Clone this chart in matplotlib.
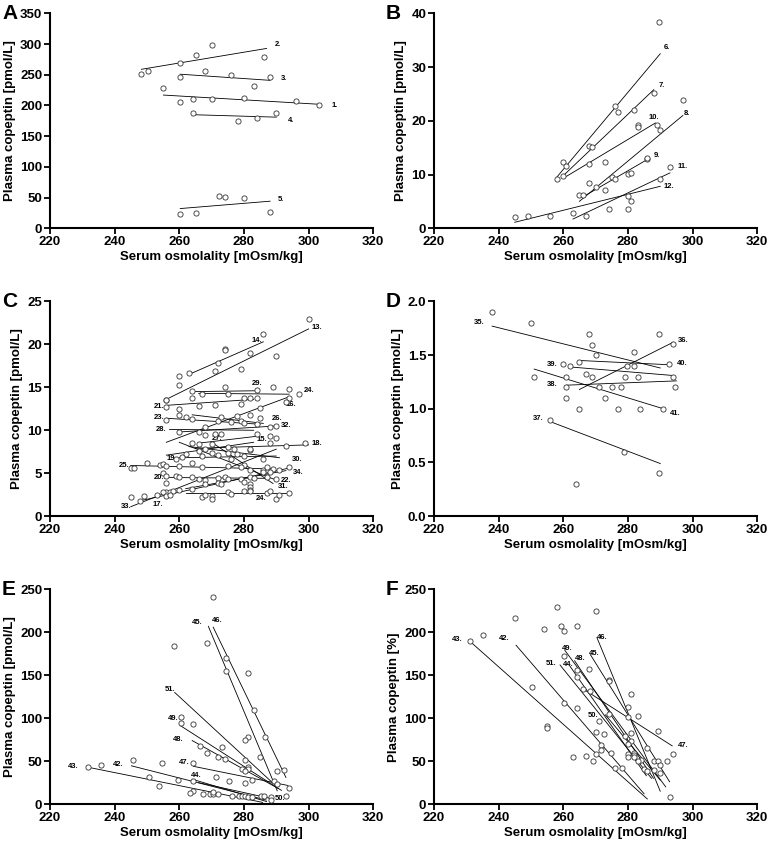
import matplotlib
matplotlib.use("Agg")
import matplotlib.pyplot as plt

plt.rcParams["font.family"] = ["Liberation Sans", "DejaVu Sans"]
plt.rcParams["font.weight"] = "bold"

# ---------------- panel A ----------------
a_px = [248.3, 250.3, 260.3, 265.2, 270.1, 286.1, 260.3, 268.1, 276.1, 288.1,
        255.1, 283, 260.3, 264.1, 270.1, 280.1, 296, 303.2, 264.1, 278.1, 284, 290,
        272.2, 274.1, 280.1, 260.3, 265.2, 288.1]
a_py = [251, 256, 270, 282, 299, 279, 247, 256, 249, 247,
        229, 231, 206, 211, 210, 212, 208, 200, 188, 175, 180, 188,
        53, 51, 50, 23, 25, 27]
a_lab = ["1.", "2.", "3.", "4.", "5."]
a_x0 = [255.1, 248.3, 260.3, 264.1, 260.3]
a_y0 = [217, 259, 251, 185, 32]
a_x1 = [303.2, 287.0, 288.1, 290, 288.1]
a_y1 = [202, 293, 241, 181, 44]
a_tx = [307, 289.5, 291.5, 293.5, 290.5]
a_ty = [200, 300, 244, 176, 46]

# ---------------- panel B ----------------
b_px = [289.7, 276, 277, 282, 288, 297, 283, 283, 289, 290, 260, 261, 260, 258,
        268, 269, 268, 273, 268, 275, 276, 270, 273, 265, 266, 280, 281, 286, 286,
        293, 290, 280, 281, 280, 274, 267, 263, 256, 249, 245]
b_py = [38.4, 22.8, 21.6, 22.1, 25.2, 23.8, 19.3, 18.8, 19.2, 18.3, 12.4, 11.5, 9.8, 9.2,
        15.3, 15.2, 12.0, 12.3, 8.5, 9.5, 9.2, 7.6, 7.2, 6.2, 6.1, 10.1, 10.3, 12.9, 13.0,
        11.4, 9.1, 6.0, 5.1, 3.6, 3.5, 2.2, 2.9, 2.2, 2.3, 2.1]
b_lab = ["6.", "7.", "10.", "8.", "9.", "11.", "12."]
b_x0 = [258, 259.5, 260, 265, 266, 263, 245]
b_y0 = [9.5, 9.5, 9.3, 5.0, 5.8, 1.7, 1.1]
b_x1 = [290, 288, 288.5, 297, 286, 293, 290]
b_y1 = [32.5, 25.8, 19.6, 21.0, 12.8, 10.3, 7.8]
b_tx = [291, 289.4, 286.5, 297.4, 288, 295.2, 291.1]
b_ty = [33.7, 26.6, 20.6, 21.4, 13.6, 11.5, 7.7]

# ---------------- panel C ----------------
c_px = [300, 286, 274, 274, 282, 272, 279, 290, 263, 271, 260, 260, 256, 274, 284, 289,
        294, 297, 264, 267, 275, 264, 280, 284, 282, 294, 256, 256, 260, 266, 271, 279,
        285, 293, 256, 260, 262, 264, 273, 278, 282, 285, 279, 276, 280, 272, 284, 260,
        266, 268, 271, 273, 268, 284, 288, 290, 288, 290, 288, 299, 293, 264, 266, 270,
        275, 277, 282, 282, 268, 266, 270, 262, 275, 278, 280, 267, 272, 259, 261, 276,
        286, 264, 250, 254, 255, 256, 260, 267, 275, 280, 279, 282, 286, 287, 289, 294,
        291, 245, 246, 255, 256, 256, 259, 260, 264, 266, 268, 272, 274, 275, 279, 280,
        282, 283, 286, 287, 290, 288, 282, 282, 282, 272, 260, 264, 268, 273, 256, 255,
        257, 258, 253, 256, 257, 249, 248, 245, 267, 268, 270, 270, 275, 276, 280, 282,
        287, 288, 290, 291, 294]
c_py = [22.9, 21.2, 19.5, 19.4, 19.0, 17.8, 17.1, 18.6, 16.7, 16.9, 16.3, 15.3, 13.5, 15.0,
        14.7, 15.0, 14.8, 14.2, 14.6, 14.2, 14.2, 13.8, 13.8, 13.8, 13.7, 13.8, 13.5, 12.7,
        12.5, 12.8, 12.9, 13.1, 12.6, 13.3, 11.2, 11.8, 11.6, 11.3, 11.5, 11.7, 11.8, 11.4,
        11.1, 11.0, 10.8, 11.1, 10.7, 9.8, 9.8, 10.4, 9.6, 9.6, 9.5, 9.6, 10.4, 10.5, 9.3,
        9.1, 8.5, 8.5, 8.2, 8.5, 8.4, 8.4, 8.0, 7.8, 7.7, 7.8, 7.8, 7.6, 7.3, 7.2, 7.3, 7.2,
        7.0, 7.0, 7.1, 6.7, 6.9, 6.7, 6.6, 6.2, 6.2, 6.0, 6.1, 5.8, 5.8, 5.7, 5.8, 5.9, 5.7,
        5.4, 5.4, 5.7, 5.5, 5.7, 5.4, 5.6, 5.6, 5.0, 4.7, 3.9, 4.7, 4.6, 4.5, 4.3, 4.2, 4.4,
        4.5, 4.3, 4.3, 4.0, 4.5, 4.4, 5.1, 4.5, 4.3, 5.1, 3.8, 3.4, 3.0, 3.9, 3.1, 3.2, 3.7,
        3.8, 2.8, 2.8, 2.8, 2.9, 2.5, 2.3, 2.5, 2.4, 1.8, 2.2, 2.2, 2.5, 2.3, 2.0, 2.8, 2.6,
        2.9, 2.9, 2.7, 2.9, 2.0, 2.5, 2.7]
c_lab = ["13.", "14.", "29.", "24.", "21.", "16.", "23.", "26.", "32.", "28.", "27.", "15.",
         "18.", "19.", "30.", "25.", "34.", "20.", "22.", "31.", "24.", "33.", "17."]
c_x0 = [256, 263, 264, 266, 256, 256, 256, 264, 260, 257, 266, 256,
        265, 260, 263, 245, 262, 257, 260, 270, 262, 245, 248]
c_y0 = [13.6, 16.5, 14.5, 14.3, 12.9, 8.6, 11.4, 11.8, 9.8, 10.1, 8.5, 7.1,
        7.9, 6.8, 8.1, 5.9, 3.2, 4.5, 8.6, 8.6, 2.7, 1.1, 1.8]
c_x1 = [300, 286, 284, 294, 283, 294, 285, 286, 290, 283, 284, 283,
        300, 290, 291, 289, 293, 288, 290, 289, 293, 290, 294]
c_y1 = [21.8, 20.3, 14.6, 14.2, 13.6, 13.9, 10.7, 10.8, 10.5, 10.0, 9.3, 8.6,
        8.3, 7.0, 6.8, 5.5, 5.3, 4.4, 4.2, 3.8, 2.7, 7.8, 5.6]
c_tx = [301, 282.4, 282.4, 298.6, 252.2, 292.8, 252.2, 288.5, 291.5, 252.7, 270.1, 284,
        300.8, 256.2, 294.7, 241.3, 295, 252.2, 291.5, 290.5, 283.6, 241.8, 251.6]
c_ty = [22.0, 20.5, 15.4, 14.6, 12.75, 13.0, 11.5, 11.4, 10.5, 10.1, 9.0, 8.95,
        8.45, 6.67, 6.6, 5.85, 5.1, 4.5, 4.15, 3.4, 2.1, 1.1, 1.35]

# ---------------- panel D ----------------
d_px = [237.9, 249.9, 268, 289.7, 269, 270, 281.8, 293.8, 260, 262, 265, 279.8, 281.8,
        292.7, 251, 261, 267, 269, 279, 283, 293.8, 261, 271, 275, 278, 294.7, 261, 273,
        265, 276.8, 283.7, 290.8, 256, 278.8, 289.7, 263.9]
d_py = [1.90, 1.80, 1.70, 1.70, 1.59, 1.50, 1.53, 1.60, 1.42, 1.40, 1.44, 1.40, 1.40,
        1.42, 1.30, 1.30, 1.32, 1.30, 1.30, 1.30, 1.30, 1.20, 1.20, 1.20, 1.20, 1.20, 1.10,
        1.10, 1.00, 1.00, 1.00, 1.00, 0.90, 0.60, 0.40, 0.30]
d_lab = ["35.", "36.", "40.", "39.", "38.", "41.", "37."]
d_x0 = [238, 265, 265, 262, 261, 251, 256]
d_y0 = [1.77, 1.18, 1.45, 1.39, 1.22, 1.37, 0.88]
d_x1 = [290, 294, 293, 294, 295, 291, 290]
d_y1 = [1.38, 1.62, 1.41, 1.31, 1.26, 1.00, 0.49]
d_tx = [232.5, 295.5, 295, 255, 255, 293, 250.5]
d_ty = [1.80, 1.64, 1.42, 1.41, 1.23, 0.96, 0.91]

# ---------------- panel E ----------------
e_px = [270.4, 268.6, 258.5, 274.5, 274.5, 281.2, 283.2, 260.5, 260.5, 264.4, 286.4, 281.2,
        280.2, 273.1, 266.4, 268.6, 285, 272, 274, 280.2, 281.2, 281.2, 279.4, 280.2, 292.3,
        290.2, 264.4, 254.7, 245.6, 235.8, 231.7, 250.6, 271.4, 275.4, 282.4, 280.2, 289.2,
        290.2, 294, 293, 253.6, 259.5, 264.4, 264.4, 263.4, 267.4, 269.5, 270.4, 272, 270.4,
        276.4, 278.4, 279.4, 280.2, 281.2, 282.4, 285.3, 286.3, 288.3, 288.3]
e_py = [240.7, 188, 184, 170, 155, 153, 109, 101, 95, 93, 78, 78,
        75, 66, 68, 59, 55, 55, 53, 51, 43, 41, 41, 39, 40,
        39, 48, 48, 51, 45, 43, 31, 31, 27, 28, 24, 27,
        23, 19, 10, 21, 28, 27, 15, 13, 12, 12, 12, 12, 14,
        10, 10, 9, 9, 8, 8, 9, 9, 8, 5]
e_lab = ["43.", "42.", "44.", "47.", "48.", "49.", "51.", "45.", "46.", "50."]
e_x0 = [231.7, 245.2, 264, 264.4, 264, 260.5, 258.6, 269, 270.5, 266]
e_y0 = [43, 44.6, 29, 44, 74, 91, 130, 207, 206, 25]
e_x1 = [285.8, 286.9, 287, 293.6, 290.7, 291.6, 289.1, 290.3, 293, 289]
e_y1 = [2, 4.7, 3, 21.7, 18, 16, 24, 15.5, 31, 6]
e_tx = [225.5, 239.5, 263.5, 260, 258, 256.5, 255.5, 264, 270, 289.5]
e_ty = [44, 46, 33, 49, 75, 100, 134, 212, 214, 6]

# ---------------- panel F ----------------
f_px = [258, 270, 245.2, 259.2, 264.1, 254.2, 260.1, 235.2, 231.2, 260.1, 268, 264.1,
        264.1, 274, 274, 266.1, 268.2, 250.2, 281.1, 280, 260.1, 264.1, 283.1, 280, 274,
        271, 281.1, 289.2, 272.5, 270, 279, 281.1, 280, 271.6, 271.6, 274.7, 282, 282,
        280, 280, 293.9, 270, 267.1, 263.1, 269.1, 284, 286, 288, 289.2, 292.2, 290, 288,
        285, 283, 282, 276, 278.1, 286, 290, 293, 255, 255]
f_py = [229.7, 225, 217, 207, 207, 203.5, 201, 196.6, 189.6, 172.5, 157.7, 156.5,
        148.4, 144.9, 143, 134.3, 131.2, 136.3, 128.5, 113.3, 118, 111.8, 102.5, 101.2, 104.8,
        96.2, 82.6, 85.3, 81.8, 84.1, 79.8, 74, 70.1, 68.5, 63.1, 59.6, 59.6, 57.6,
        58, 54.5, 58.8, 58, 56, 54.5, 50.6, 51.4, 65.4, 50.6, 49.8, 49.8, 45.6, 39.7,
        40.9, 50.6, 54.5, 42, 42, 38.9, 36.6, 8.2, 91, 89]
f_lab = ["43.", "42.", "46.", "49.", "45.", "48.", "51.", "44.", "50.", "47."]
f_x0 = [231, 245.4, 270.4, 260.5, 268.4, 263.5, 259, 262, 273, 266.6]
f_y0 = [190, 185, 194, 179, 174, 167, 162, 161, 104, 133]
f_x1 = [286, 285, 290, 291.7, 292.9, 287.9, 287.3, 285.7, 290, 293.7]
f_y1 = [6, 12, 15, 20, 26, 30, 30, 33, 28, 67.8]
f_tx = [225.5, 240, 270.5, 259.5, 268, 263.5, 254.5, 259.8, 267.5, 295.5]
f_ty = [192, 193, 194, 181, 175, 169, 164, 162, 103, 68]

YLAB_PMOL = "Plasma copeptin [pmol/L]"
XLAB = "Serum osmolality [mOsm/kg]"

panels = [
    ("A", (0.065, 0.729), YLAB_PMOL, 350, 50, "{:.0f}", a_px, a_py, a_lab, a_x0, a_y0, a_x1, a_y1, a_tx, a_ty),
    ("B", (0.565, 0.729), YLAB_PMOL, 40, 10, "{:.0f}", b_px, b_py, b_lab, b_x0, b_y0, b_x1, b_y1, b_tx, b_ty),
    ("C", (0.065, 0.387), YLAB_PMOL, 25, 5, "{:.0f}", c_px, c_py, c_lab, c_x0, c_y0, c_x1, c_y1, c_tx, c_ty),
    ("D", (0.565, 0.387), YLAB_PMOL, 2.0, 0.5, "{:.1f}", d_px, d_py, d_lab, d_x0, d_y0, d_x1, d_y1, d_tx, d_ty),
    ("E", (0.065, 0.045), YLAB_PMOL, 250, 50, "{:.0f}", e_px, e_py, e_lab, e_x0, e_y0, e_x1, e_y1, e_tx, e_ty),
    ("F", (0.565, 0.045), "Plasma copeptin [%]", 250, 50, "{:.0f}", f_px, f_py, f_lab, f_x0, f_y0, f_x1, f_y1, f_tx, f_ty),
]

fig = plt.figure(figsize=(7.68, 8.42), dpi=100)

for (letter, pos, ylab, ymax, ystep, fmt, px, py, lab, x0, y0, x1, y1, tx, ty) in panels:
    ax = fig.add_axes([pos[0], pos[1], 0.421, 0.255])
    for i in range(len(lab)):
        ax.plot([x0[i], x1[i]], [y0[i], y1[i]], color="black", linewidth=0.6, zorder=2)
        ax.text(tx[i], ty[i], lab[i], fontsize=5.5, fontweight="bold", ha="left", va="center")
    ax.scatter(px, py, s=14, facecolors="white", edgecolors="#333333", linewidths=0.6, zorder=3)

    ax.set_xlim(220, 320)
    ax.set_ylim(0, ymax)
    ax.set_xticks(range(220, 321, 20))
    nt = int(round(ymax / ystep))
    yt = [k * ystep for k in range(nt + 1)]
    ax.set_yticks(yt)
    ax.set_yticklabels([fmt.format(v) for v in yt])
    ax.spines["top"].set_visible(False)
    ax.spines["right"].set_visible(False)
    ax.spines["left"].set_linewidth(1.5)
    ax.spines["bottom"].set_linewidth(1.5)
    ax.tick_params(direction="out", length=4, width=1.3, labelsize=9.5, pad=1.5)
    for t in ax.get_xticklabels() + ax.get_yticklabels():
        t.set_fontweight("bold")
    ax.set_xlabel(XLAB, fontsize=9.5, fontweight="bold", labelpad=2)
    ax.set_ylabel(ylab, fontsize=9.5, fontweight="bold", labelpad=3)
    ax.text(-0.148, 1.0, letter, transform=ax.transAxes, fontsize=15,
            fontweight="bold", ha="left", va="center")

plt.savefig("out.png", dpi=100)
